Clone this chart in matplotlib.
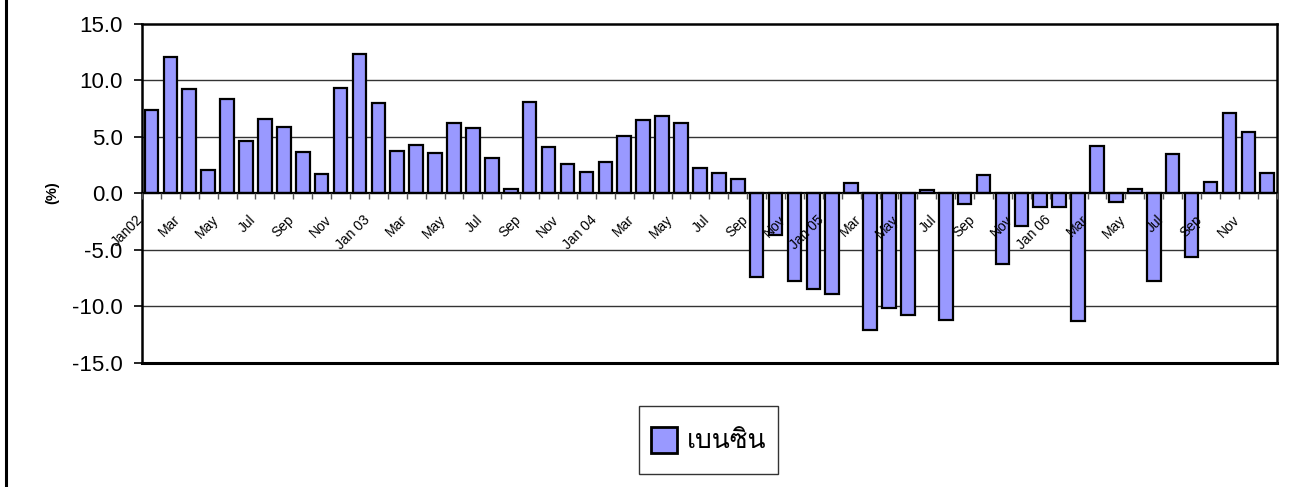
import matplotlib
matplotlib.use("Agg")
import matplotlib.pyplot as plt
from matplotlib import font_manager
from matplotlib.ft2font import FT2Font
from matplotlib.lines import Line2D
from matplotlib.patches import Rectangle
from matplotlib.legend_handler import HandlerPatch
import matplotlib.transforms as mtransforms
import numpy as np

# Monthly change of benzine price (%), Jan 2002 - Dec 2006
months = [
    "Jan02", "Feb", "Mar", "Apr", "May", "Jun", "Jul", "Aug", "Sep", "Oct", "Nov", "Dec",
    "Jan 03", "Feb", "Mar", "Apr", "May", "Jun", "Jul", "Aug", "Sep", "Oct", "Nov", "Dec",
    "Jan 04", "Feb", "Mar", "Apr", "May", "Jun", "Jul", "Aug", "Sep", "Oct", "Nov", "Dec",
    "Jan 05", "Feb", "Mar", "Apr", "May", "Jun", "Jul", "Aug", "Sep", "Oct", "Nov", "Dec",
    "Jan 06", "Feb", "Mar", "Apr", "May", "Jun", "Jul", "Aug", "Sep", "Oct", "Nov", "Dec",
]
benzine = [
    7.35, 12.0, 9.2, 2.03, 8.35, 4.65, 6.56, 5.88, 3.65, 1.68, 9.32, 12.3,
    7.97, 3.74, 4.29, 3.57, 6.18, 5.76, 3.12, 0.38, 8.03, 4.09, 2.56, 1.91,
    2.74, 5.09, 6.44, 6.79, 6.21, 2.21, 1.76, 1.26, -7.41, -3.74, -7.74, -8.44,
    -8.94, 0.91, -12.15, -10.12, -10.76, 0.25, -11.26, -0.94, 1.59, -6.26, -2.88, -1.24,
    -1.24, -11.32, 4.18, -0.79, 0.32, -7.74, 3.44, -5.68, 1.0, 7.06, 5.38, 1.74,
]
series_name = "เบนซิน"
y_ticks = [-15.0, -10.0, -5.0, 0.0, 5.0, 10.0, 15.0]


def family_with_glyph(ch, preferred=()):
    """Return an installed font family that contains the given character."""
    found = []
    for entry in font_manager.fontManager.ttflist:
        try:
            ft = FT2Font(entry.fname)
            if ft.get_char_index(ord(ch)) and entry.name not in found:
                found.append(entry.name)
        except Exception:
            continue
    for name in preferred:
        if name in found:
            return name
    return found[0] if found else "DejaVu Sans"


thai_family = family_with_glyph("เ", preferred=("Loma", "Garuda", "Norasi"))
plt.rcParams["font.family"] = ["Liberation Sans", "DejaVu Sans"]

fig = plt.figure(figsize=(13.01, 4.87), dpi=100)
ax = fig.add_axes([142 / 1301, 1 - 362.7 / 487, (1276.7 - 142) / 1301, (362.7 - 23.5) / 487])
ax.set_axisbelow(False)

x = np.arange(len(benzine))
bars = ax.bar(x, benzine, width=0.72, color="#9999FF", edgecolor="black",
              linewidth=1.6, zorder=2, label=series_name)

ax.set_xlim(-0.5, len(benzine) - 0.5)
ax.set_ylim(-15, 15)

# horizontal gridlines
for yv in (-10, -5, 5, 10):
    ax.axhline(yv, color="#333333", linewidth=1.0, zorder=0)

# plot frame; the category axis sits on the zero line
for side in ("left", "right", "top"):
    ax.spines[side].set_linewidth(1.8)
    ax.spines[side].set_color("black")
ax.spines["bottom"].set_position(("data", 0))
ax.spines["bottom"].set_linewidth(1.6)
ax.axhline(-15, color="black", linewidth=2.2, clip_on=False, zorder=3)

# value axis
ax.set_yticks(y_ticks)
ax.set_yticklabels([f"{v:.1f}" for v in y_ticks], fontsize=16)
ax.tick_params(axis="y", direction="out", length=6, width=1.2, pad=8)

# category axis: ticks between months, labels on every other month
ax.set_xticks(np.arange(len(benzine) + 1) - 0.5)
ax.set_xticklabels([])
ax.tick_params(axis="x", which="major", direction="out", length=4, width=1.0,
               color="#555555")
label_pos = x[::2]
ax.set_xticks(label_pos, minor=True)
ax.set_xticklabels([months[i] for i in label_pos], minor=True, rotation=45,
                   ha="right", va="top", fontsize=10)
ax.tick_params(axis="x", which="minor", length=0, pad=14)
shift = mtransforms.ScaledTranslation(-6 / 100, 0, fig.dpi_scale_trans)
for lbl in ax.get_xticklabels(minor=True):
    lbl.set_transform(lbl.get_transform() + shift)

fig.text(52 / 1301, 1 - 193 / 487, "(%)", rotation=90, fontsize=10.5,
         fontweight="bold", ha="center", va="center")


def square_patch(legend, orig_handle, xdescent, ydescent, width, height, fontsize):
    # square key centred in a taller handle box
    return Rectangle((-xdescent, -ydescent + (height - width) / 2), width, width)


key = bars.patches[0]
leg = ax.legend(handles=[key], labels=[series_name], loc="center",
                bbox_to_anchor=(708.5 / 1301, 1 - 440 / 487),
                bbox_transform=fig.transFigure, frameon=True, fancybox=False,
                prop={"family": [thai_family, "DejaVu Sans"], "size": 19},
                handlelength=0.97, handleheight=2.15, handletextpad=0.38,
                borderpad=0.45, borderaxespad=0,
                handler_map={Rectangle: HandlerPatch(patch_func=square_patch)})
leg.get_frame().set_edgecolor("black")
leg.get_frame().set_linewidth(1.0)
for h in leg.legend_handles:
    h.set_linewidth(2.0)
    h.set_facecolor("#9999FF")
    h.set_edgecolor("black")

# left border of the chart area
fig.add_artist(Line2D([6 / 1301, 6 / 1301], [0, 1], transform=fig.transFigure,
                      color="black", linewidth=2.2))

fig.savefig("out.png", dpi=100)
